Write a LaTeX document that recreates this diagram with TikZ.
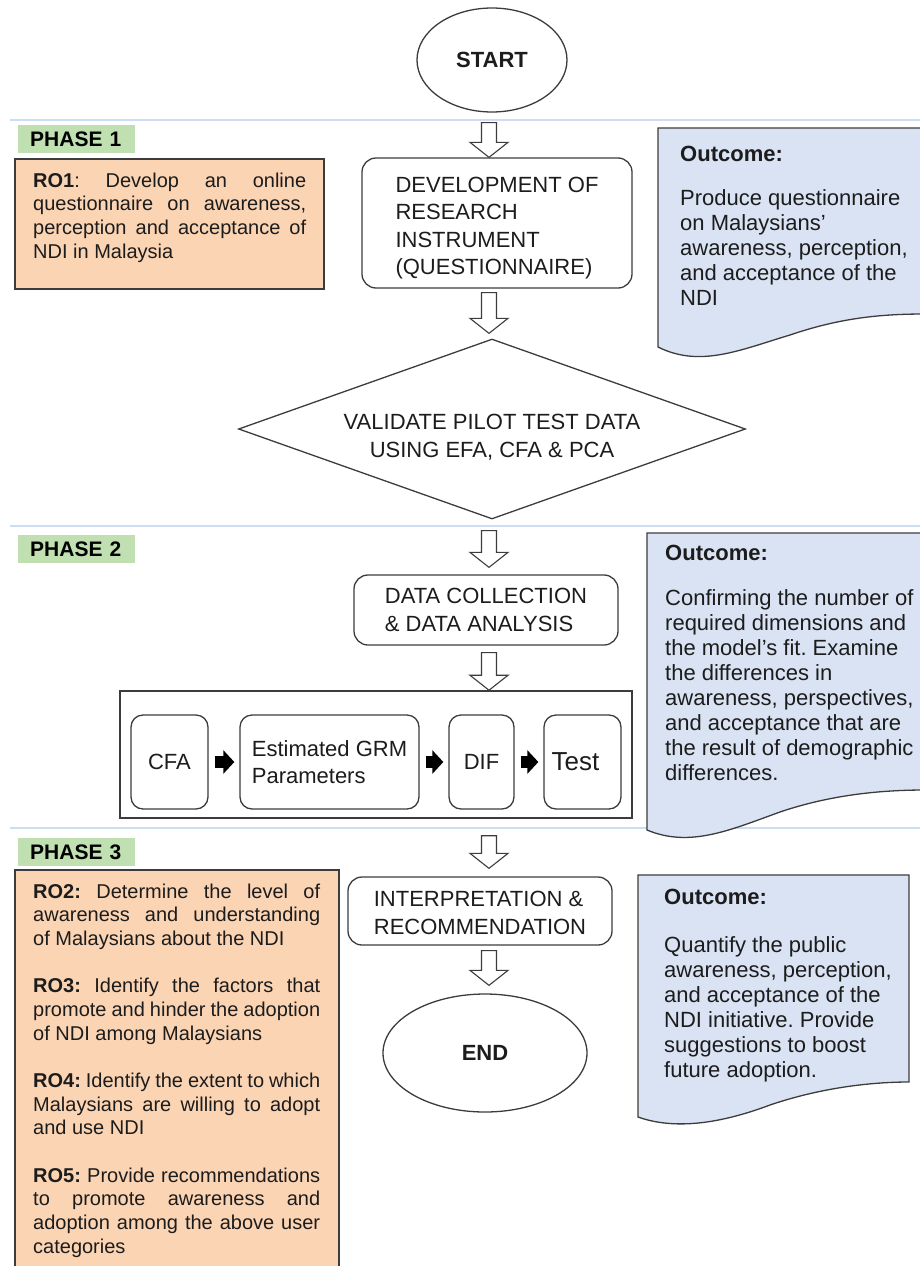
\documentclass[tikz,border=0pt]{standalone}
\usepackage{fontspec}
\setmainfont{Liberation Sans}
\usetikzlibrary{shapes.geometric,arrows.meta,calc}
\definecolor{peach}{RGB}{251,212,180}
\definecolor{outblue}{RGB}{218,227,243}
\definecolor{phasegreen}{RGB}{192,224,178}
\definecolor{sepblue}{RGB}{205,222,242}
\definecolor{linec}{RGB}{60,60,60}
\definecolor{txt}{RGB}{28,28,28}
\frenchspacing
\begin{document}
\begin{tikzpicture}[x=1pt,y=-1pt,
  flow/.style={draw=linec, line width=1.3pt, text=txt, font=\fontsize{22}{27.5}\selectfont},
  flowtext/.style={inner sep=0pt, text=txt, font=\fontsize{22}{27.5}\selectfont},
  term/.style={flow, ellipse, inner sep=0pt, font=\fontsize{22}{26}\selectfont\bfseries},
  procbox/.style={flow, rounded corners=14pt, align=left, inner sep=0pt},
  smallbox/.style={flow, rounded corners=12pt, align=left, inner sep=0pt, minimum height=94pt},
  decision/.style={flow, diamond, shape aspect=2.8, inner sep=0pt, minimum width=507pt, minimum height=180pt},
  container/.style={draw=linec, line width=1.5pt, inner sep=0pt},
  robox/.style={draw=linec, line width=1.8pt, fill=peach, inner sep=0pt, anchor=north west},
  outbox/.style={draw=linec, line width=1.3pt, fill=outblue},
  sepline/.style={draw=sepblue, line width=1.8pt},
  phase/.style={fill=phasegreen, anchor=north west, minimum height=28pt, inner xsep=12pt, inner ysep=0pt, text width=93pt, align=left, text=black, font=\fontsize{21}{25}\selectfont\bfseries},
  rotext/.style={anchor=base west, inner sep=0pt, text=txt, font=\fontsize{20}{23.67}\selectfont},
  otext/.style={anchor=base west, inner sep=0pt, text=txt, font=\fontsize{22}{25}\selectfont},
  hollow/.style={draw=linec, fill=white, line width=1.1pt, line join=miter, to path={let \p1=(\tikztostart), \p2=(\tikztotarget) in (\x1-7.5pt,\y1) -- (\x1+7.5pt,\y1) -- (\x1+7.5pt,\y2+15pt) -- (\x1+19pt,\y2+15pt) -- (\x1,\y2) -- (\x1-19pt,\y2+15pt) -- (\x1-7.5pt,\y2+15pt) -- cycle}},
  solidarr/.style={draw=black, line width=12pt, -{Triangle[length=11pt,width=23pt]}, shorten <=6pt, shorten >=5pt}
]
\useasboundingbox (0,0) rectangle (920,1266);

% phase separators
\draw[sepline] (10,120) -- (920,120);
\draw[sepline] (10,526) -- (920,526);
\draw[sepline] (10,828) -- (920,828);

% outcome boxes
\filldraw[outbox] (658,128) -- (925,128) -- (925,314) .. controls (880,314) and (840,318) .. (790,335) .. controls (740,350) and (700,368) .. (658,347) -- cycle;
\filldraw[outbox] (647,533) -- (925,533) -- (925,790) .. controls (880,790) and (830,795) .. (780,812) .. controls (730,830) and (690,848) .. (647,830) -- cycle;
\filldraw[outbox] (638,875) -- (909,875) -- (909,1082) .. controls (870,1082) and (820,1088) .. (770,1105) .. controls (730,1120) and (680,1132) .. (638,1117) -- cycle;

\node[otext] (o1t) at (680,161) {\parbox[t]{260pt}{\textbf{Outcome:}\\[19pt]Produce questionnaire\\on Malaysians'\\awareness, perception,\\and acceptance of the\\NDI}};
\node[otext] (o2t) at (665,560) {\parbox[t]{280pt}{\textbf{Outcome:}\\[20pt]Confirming the number of\\required dimensions and\\the model's fit. Examine\\the differences in\\awareness, perspectives,\\and acceptance that are\\the result of demographic\\differences.}};
\node[otext] (o3t) at (664,904) {\parbox[t]{260pt}{\textbf{Outcome:}\\[23pt]Quantify the public\\awareness, perception,\\and acceptance of the\\NDI initiative. Provide\\suggestions to boost\\future adoption.}};

% phase labels
\node[phase] (p1) at (18,125) {PHASE 1};
\node[phase] (p2) at (18,535) {PHASE 2};
\node[phase] (p3) at (18,838) {PHASE 3};

% research objective boxes
\node[robox, minimum width=309pt, minimum height=130pt] (ro1) at (14,158) {};
\node[rotext] (ro1t) at (33,187) {\parbox[t]{273pt}{%
\makebox[\linewidth][s]{\textbf{RO1}: Develop an online}\\
\makebox[\linewidth][s]{questionnaire on awareness,}\\
\makebox[\linewidth][s]{perception and acceptance of}\\
NDI in Malaysia}};

\node[robox, minimum width=324pt, minimum height=412pt] (ro3) at (14,869) {};
\node[rotext] (ro3t) at (33,898) {\parbox[t]{287pt}{%
\makebox[\linewidth][s]{\textbf{RO2:} Determine the level of}\\
\makebox[\linewidth][s]{awareness and understanding}\\
of Malaysians about the NDI\\[23.67pt]
\makebox[\linewidth][s]{\textbf{RO3:} Identify the factors that}\\
\makebox[\linewidth][s]{promote and hinder the adoption}\\
of NDI among Malaysians\\[23.67pt]
\makebox[\linewidth][s]{\textbf{RO4:} Identify the extent to which}\\
\makebox[\linewidth][s]{Malaysians are willing to adopt}\\
and use NDI\\[23.67pt]
\makebox[\linewidth][s]{\textbf{RO5:} Provide recommendations}\\
\makebox[\linewidth][s]{to promote awareness and}\\
\makebox[\linewidth][s]{adoption among the above user}\\
categories}};

% main flow
\node[term, minimum width=150pt, minimum height=104pt] (start) at (492,60) {START};
\node[procbox, minimum width=270pt, minimum height=130pt] (dev) at (497,223) {};
\node[flowtext, align=left] (devtxt) at (497,228) {DEVELOPMENT OF\\RESEARCH\\INSTRUMENT\\(QUESTIONNAIRE)};
\node[decision] (val) at (492,429) {};
\node[flowtext, align=center] (valtxt) at (492,437) {VALIDATE PILOT TEST DATA\\USING EFA, CFA \& PCA};
\node[procbox, minimum width=264pt, minimum height=70pt] (data) at (486,610) {DATA COLLECTION\\\& DATA ANALYSIS};
\node[container, minimum width=512pt, minimum height=127pt] (cont) at (376,754.5) {};
\node[smallbox, minimum width=77pt] (cfa) at (169.5,762) {CFA};
\node[smallbox, minimum width=179pt] (grm) at (329.5,762) {Estimated GRM\\Parameters};
\node[smallbox, minimum width=65pt] (dif) at (481.5,762) {DIF};
\node[smallbox, minimum width=77pt, font=\fontsize{26}{30}\selectfont] (test) at (582.5,762) {Test\hspace*{14pt}};
\node[procbox, minimum width=264pt, minimum height=68pt] (interp) at (480,911) {};
\node[flowtext, align=left] (interptxt) at (480,913) {INTERPRETATION \&\\RECOMMENDATION};
\node[term, minimum width=204pt, minimum height=118pt] (end) at (485,1053) {END};

% connectors
\coordinate (ax) at (489,0);
\draw[hollow] ($(start.south -| ax)+(0,10)$) to (dev.north -| ax);
\draw[hollow] ($(dev.south -| ax)+(0,4)$) to ($(val.north -| ax)+(0,-5)$);
\draw[hollow] ($(val.south -| ax)+(0,11)$) to ($(data.north -| ax)+(0,-7)$);
\draw[hollow] ($(data.south -| ax)+(0,7)$) to (cont.north -| ax);
\draw[hollow] ($(cont.south -| ax)+(0,17)$) to ($(interp.north -| ax)+(0,-8)$);
\draw[hollow] ($(interp.south -| ax)+(0,5)$) to ($(end.north -| ax)+(0,-8)$);

\draw[solidarr] (cfa) -- (grm);
\draw[solidarr] (grm) -- (dif);
\draw[solidarr] (dif) -- (test);
\end{tikzpicture}
\end{document}
